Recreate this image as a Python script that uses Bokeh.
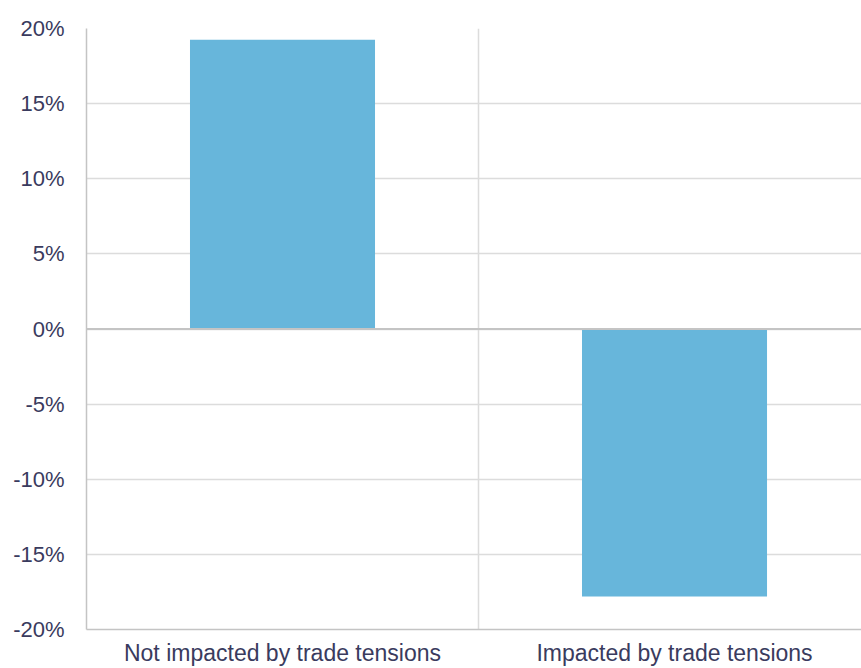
from bokeh.plotting import figure
from bokeh.models import Range1d, FixedTicker, Span, Grid
from bokeh.embed import file_html
from bokeh.resources import INLINE

categories = ["Not impacted by trade tensions", "Impacted by trade tensions"]
values = [19.25, -17.8]
y_ticks = [-20, -15, -10, -5, 0, 5, 10, 15, 20]

xpos = [i + 0.5 for i in range(len(categories))]

p = figure(width=861, height=668, output_backend="svg", toolbar_location=None,
           x_range=Range1d(0, 1.977), y_range=Range1d(-20, 20),
           min_border_left=86, min_border_right=0, min_border_top=28, min_border_bottom=38)
p.outline_line_color = None
p.background_fill_color = "white"

p.vbar(x=xpos, top=values, bottom=0, width=0.472, fill_color="#67B6DB", line_color=None)

p.xaxis.ticker = FixedTicker(ticks=xpos)
p.xaxis.major_label_overrides = {x: c for x, c in zip(xpos, categories)}
p.yaxis.ticker = FixedTicker(ticks=y_ticks)
p.yaxis.major_label_overrides = {t: f"{t}%" for t in y_ticks}
for ax in (p.xaxis[0], p.yaxis[0]):
    ax.major_tick_line_color = None
    ax.minor_tick_line_color = None
    ax.axis_line_color = "#c4c4c4"
    ax.axis_line_width = 1.5
    ax.major_label_text_font = "Liberation Sans"
    ax.major_label_text_font_size = "22px"
    ax.major_label_text_color = "#3a3b5e"
p.xaxis.major_label_text_font_size = "23px"
p.yaxis.major_label_standoff = 16
p.xaxis.major_label_standoff = 4

p.xgrid.visible = False
p.ygrid.ticker = FixedTicker(ticks=y_ticks)
p.ygrid.grid_line_color = "#dcdcdc"
p.ygrid.grid_line_width = 1.5

p.add_layout(Grid(dimension=0, ticker=FixedTicker(ticks=[1]), grid_line_color="#dcdcdc", grid_line_width=1.5))
p.add_layout(Span(location=0, dimension="width", line_color="#c4c4c4", line_width=2))

open("out.html", "w").write(file_html(p, INLINE))
